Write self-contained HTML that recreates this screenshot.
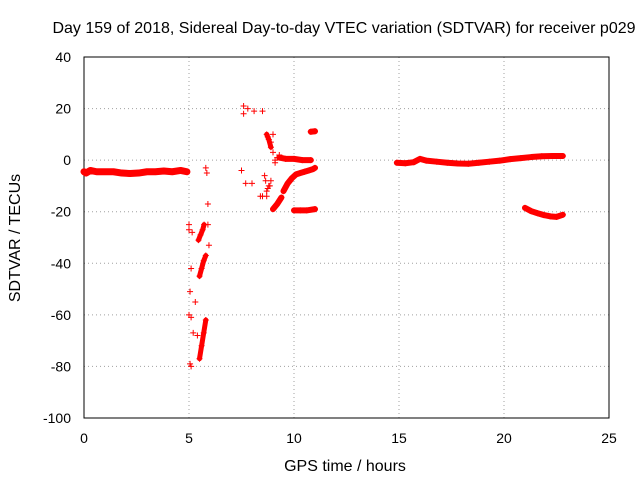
<!DOCTYPE html>
<html><head><meta charset="utf-8"><style>
body{margin:0;background:#fff}
svg{display:block;font-family:"Liberation Sans",sans-serif}
</style></head><body>
<svg id="chart" width="640" height="480"></svg>
<script>
// x: GPS time (hours), y: SDTVAR (TECU)
const xTicks=[0,5,10,15,20,25];
const yTicks=[40,20,0,-20,-40,-60,-80,-100];
// continuous traces (drawn as thick line + markers)
const trace1T=[0,0.1,0.3,0.6,1,1.4,1.8,2.2,2.6,3,3.4,3.8,4.2,4.6,4.9];
const trace1V=[-4.5,-5,-4,-4.5,-4.5,-4.5,-5,-5.2,-5,-4.5,-4.5,-4.2,-4.5,-4,-4.5];
const trace2T=[9.5,9.7,9.9,10.1,10.3,10.5,10.7,10.9,11];
const trace2V=[-12,-9,-7,-5.5,-5,-4.5,-4,-3.5,-3];
const trace3T=[9.3,9.6,10,10.4,10.8];
const trace3V=[1,0.5,0.5,0,0];
const trace4T=[10,10.3,10.6,11];
const trace4V=[-19.5,-19.5,-19.5,-19];
const trace5T=[10.8,11];
const trace5V=[11,11.2];
const trace6T=[14.9,15.3,15.7,16,16.3,16.8,17.3,17.8,18.3,18.8,19.3,19.8,20.3,20.8,21.3,21.8,22.3,22.8];
const trace6V=[-1,-1.2,-0.8,0.5,-0.2,-0.6,-1,-1.3,-1.4,-1,-0.6,-0.2,0.4,0.8,1.2,1.5,1.6,1.6];
const trace7T=[21,21.3,21.6,21.9,22.2,22.5,22.8];
const trace7V=[-18.5,-19.8,-20.6,-21.3,-21.8,-22,-21.2];
const trace8T=[9,9.2,9.4];
const trace8V=[-19,-17,-14.5];
const trace9T=[5.45,5.55,5.65,5.72];
const trace9V=[-31,-29,-27,-25];
const trace10T=[5.5,5.6,5.7,5.8];
const trace10V=[-45,-42,-39,-37];
const trace11T=[5.5,5.6,5.7,5.8];
const trace11V=[-77,-72,-67,-62];
const trace12T=[8.7,8.8,8.9];
const trace12V=[10,8,5];
// scattered points
const scatT=[5,5.05,5.1,5.0,5.05,5.1,5.0,5.15,5.1,5.85,5.8,5.9,5.95,5.9,5.2,5.3,5.4,
7.5,7.6,7.8,7.7,8.0,7.6,8.1,8.5,8.75,8.9,9.0,8.65,8.7,8.8,8.9,8.6,8.7,8.75,8.85,8.4,8.5,9.1,9.2,9.3,9.0,9.1];
const scatV=[-25,-51,-42,-60,-79,-80,-27,-28,-61,-5,-3,-17,-33,-25,-67,-55,-68,
-4,21,20,-9,-9,18,19,19,9,7,10,-8,-12,-10,-8,-6,-14,-11,-10,-14,-14,-1,1,2,3,0];

const svg=document.getElementById('chart');
const NS='http://www.w3.org/2000/svg';
const L=84,R=609,T=57,B=418;
const xs=v=>L+(v-0)/25*(R-L);
const ys=v=>T+(40-v)/140*(B-T);
function mk(tag,attrs,txt){const e=document.createElementNS(NS,tag);for(const k in attrs)e.setAttribute(k,attrs[k]);if(txt!==undefined)e.textContent=txt;svg.appendChild(e);return e;}

xTicks.forEach(v=>{
  const g=mk('line',{x1:xs(v),x2:xs(v),y1:T,y2:B,stroke:'#a0a0a0','stroke-dasharray':'1,3'});
  
  
  const t=mk('text',{x:xs(v),y:B+25,'text-anchor':'middle','font-size':'14'},String(v));
  
  
});
yTicks.forEach(v=>{
  const g=mk('line',{x1:L,x2:R,y1:ys(v),y2:ys(v),stroke:'#a0a0a0','stroke-dasharray':'1,3'});
  
  
  const t=mk('text',{x:L-13,y:ys(v)+5,'text-anchor':'end','font-size':'14'},String(v));
  
  
});
const frame=mk('rect',{x:L,y:T,width:R-L,height:B-T,fill:'none',stroke:'#000'});



const red='#ff0000';
function plus(x,y){
  const p=mk('path',{d:`M${x-3},${y}h6M${x},${y-3}v6`,stroke:red,'stroke-width':'1'});
  
  
}
function trace(tArr,vArr,w){
  const pts=tArr.map((t,i)=>xs(t)+','+ys(vArr[i])).join(' ');
  const pl=mk('polyline',{points:pts,fill:'none',stroke:red,'stroke-width':w||'6','stroke-linejoin':'round','stroke-linecap':'round'});
  
  
  tArr.forEach((t,i)=>plus(xs(t),ys(vArr[i])));
}
trace(trace1T,trace1V,'7');trace(trace2T,trace2V);trace(trace3T,trace3V);trace(trace4T,trace4V);
trace(trace5T,trace5V);trace(trace6T,trace6V);trace(trace7T,trace7V);trace(trace8T,trace8V);
trace(trace9T,trace9V,'5');trace(trace10T,trace10V,'5');trace(trace11T,trace11V,'5');trace(trace12T,trace12V,'5');
scatT.forEach((t,i)=>plus(xs(t),ys(scatV[i])));

const ti=mk('text',{x:344,y:33,'text-anchor':'middle','font-size':'16'},'Day 159 of 2018, Sidereal Day-to-day VTEC variation (SDTVAR) for receiver p029');


const xl=mk('text',{x:345,y:471,'text-anchor':'middle','font-size':'16'},'GPS time / hours');


const yl=mk('text',{x:20,y:238,'text-anchor':'middle','font-size':'16',transform:'rotate(-90 20 238)'},'SDTVAR / TECUs');


</script>
</body></html>
